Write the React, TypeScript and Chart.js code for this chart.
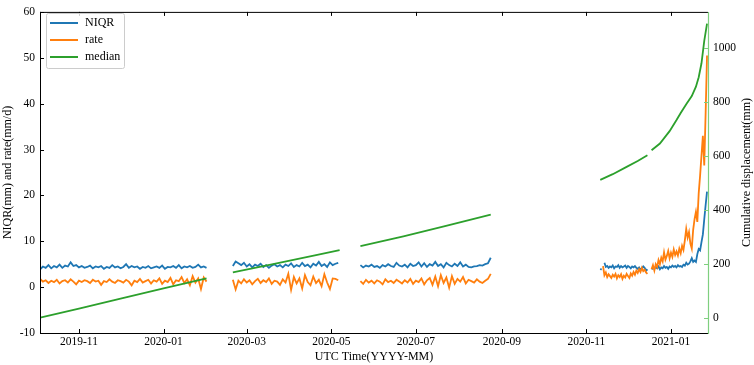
import { useEffect, useRef } from 'react';
import { Chart, registerables } from 'chart.js';

Chart.register(...registerables);

const DAY = 86400000;

// ---- x range / ticks ----
const X_MIN_DATE = '2019-10-04';
const X_MAX_DATE = '2021-01-27';
const X_TICK_DATES = ['2019-11-01', '2020-01-01', '2020-03-01', '2020-05-01', '2020-07-01', '2020-09-01', '2020-11-01', '2021-01-01'];
const LEFT_TICKS = [-10, 0, 10, 20, 30, 40, 50, 60];
const RIGHT_TICKS = [0, 200, 400, 600, 800, 1000];

// ---- NIQR (mm) and rate (mm/d): segment start date, step (days), values ----
const SEG1_START = '2019-10-04';
const SEG1_STEP = 2;
const NIQR_SEG1 = [3.9,4.5,4.2,4.8,4.1,4.6,4.3,4.9,4.2,4.7,4.5,5.4,4.6,4.8,4.3,4.6,4.2,4.4,4.7,4.1,4.5,4.3,4.6,4.0,4.4,4.2,4.8,4.3,4.5,4.1,4.4,5.0,4.2,4.6,4.3,4.5,4.0,4.4,4.2,4.6,4.1,4.3,4.5,4.2,4.7,4.0,4.4,4.3,4.6,4.2,4.8,4.1,4.5,4.3,4.6,4.2,4.4,4.9,4.3,4.5,4.2];
const RATE_SEG1 = [1.8,1.2,1.5,0.9,1.4,1.1,1.6,0.8,1.3,1.5,1.0,1.7,1.2,0.6,1.4,1.1,1.5,1.3,0.9,1.6,1.2,1.4,0.5,1.3,1.1,1.7,1.2,0.9,1.5,1.3,1.0,1.6,1.2,0.4,1.4,1.1,1.8,1.0,1.3,1.6,0.8,1.5,1.2,1.9,0.7,1.4,1.1,2.0,0.6,1.5,1.3,2.2,0.9,1.7,0.4,2.4,1.0,1.9,-0.4,2.1,1.2];

const SEG2_START = '2020-02-20';
const SEG2_STEP = 2;
const NIQR_SEG2 = [4.6,5.6,5.2,4.8,5.3,4.5,5.0,4.3,4.9,4.6,5.1,4.4,4.8,4.2,4.7,5.0,4.5,4.8,4.3,4.9,4.6,5.2,4.4,4.8,4.5,5.3,4.6,4.9,4.3,5.1,4.7,5.5,4.6,5.0,4.4,5.4,4.8,5.1,5.3];
const RATE_SEG2 = [1.6,-0.5,1.4,0.8,1.7,1.0,1.5,0.6,1.3,1.8,0.9,1.5,1.1,1.9,0.7,1.4,1.2,0.5,1.7,1.0,2.9,-0.6,2.2,0.8,1.9,-0.3,2.6,1.1,0.4,2.3,0.9,1.6,0.2,2.8,1.0,-0.4,1.9,1.8,1.5];

const SEG3_START = '2020-05-22';
const SEG3_STEP = 2;
const NIQR_SEG3 = [4.8,4.3,4.7,4.5,4.9,4.4,4.6,4.2,4.8,4.5,5.0,4.6,4.4,5.3,4.7,4.5,4.9,4.3,5.1,4.6,4.8,5.4,4.5,5.2,4.4,5.0,4.7,5.5,4.6,5.0,4.3,5.3,4.8,4.5,5.1,4.6,5.4,4.5,4.9,4.4,4.3,4.5,4.6,4.8,4.7,5.0,5.2,6.4];
const RATE_SEG3 = [1.3,0.7,1.6,1.0,1.4,0.8,1.5,1.2,0.6,1.7,1.1,1.4,0.9,1.6,1.2,0.8,1.5,1.0,1.8,0.7,1.4,1.1,1.9,0.6,1.5,2.0,0.5,2.3,0.2,2.6,0.9,2.1,-0.1,2.4,0.7,1.8,1.2,2.2,0.8,1.6,1.3,1.0,1.7,1.2,0.9,1.4,1.8,2.9];

const NIQR_SEG4A_START = '2020-11-11';
const RATE_SEG4A_START = '2020-11-13';
const SEG4_STEP = 1;
const NIQR_SEG4A = [4.0,3.8,null,5.3,4.4,4.6,4.2,4.5,4.3,4.7,4.1,4.5,4.4,4.8,4.2,4.6,4.3,4.5,4.7,4.2,4.6,4.4,4.1,4.5,4.3,4.6,4.2,4.0,4.3,3.8,4.1,4.5,4.2,3.6,3.9];
const RATE_SEG4A = [4.6,2.6,3.2,2.2,2.8,2.4,2.0,2.7,2.3,2.9,1.9,2.6,2.2,2.8,1.8,2.5,2.1,2.9,2.4,2.0,3.0,2.5,3.3,2.7,3.6,3.1,3.9,3.3,4.2,3.5,3.8,3.2,2.9];

const SEG4B_START = '2020-12-18';
const NIQR_SEG4B = [3.9,4.2,4.0,4.4,4.1,4.5,3.9,4.3,4.1,4.6,4.2,4.4,4.0,4.5,4.3,4.7,4.4,4.6,4.3,4.8,4.5,4.6,4.4,4.9,4.7,5.3,4.9,5.1,5.6,6.3,5.5,5.8,5.5,7.2,8.3,8.0,9.8,11.5,14.8,17.9,20.8];
const RATE_SEG4B = [3.9,4.8,3.6,5.0,4.4,5.9,5.0,6.4,5.6,7.6,6.0,6.8,7.9,6.3,7.5,6.6,8.2,7.0,7.8,6.9,8.4,7.4,9.0,8.1,10.2,12.7,10.8,12.0,9.5,8.4,12.5,14.8,16.4,14.2,20.5,24.3,28.7,33.0,26.5,38.0,50.5];

// ---- median cumulative displacement (mm), right axis ----
const MED_SEG1_DATES = ['2019-10-04', '2019-11-01', '2019-12-01', '2020-01-01', '2020-02-01'];
const MED_SEG1 = [0, 34, 71, 109, 146];
const MED_SEG2_DATES = ['2020-02-20', '2020-03-20', '2020-04-20', '2020-05-07'];
const MED_SEG2 = [168, 199, 232, 251];
const MED_SEG3_DATES = ['2020-05-22', '2020-06-22', '2020-07-22', '2020-08-24'];
const MED_SEG3 = [266, 302, 340, 383];
const MED_SEG4A_DATES = ['2020-11-11', '2020-11-20', '2020-11-30', '2020-12-08', '2020-12-15'];
const MED_SEG4A = [512, 533, 560, 582, 603];
const MED_SEG4B_DATES = ['2020-12-18', '2020-12-24', '2020-12-31', '2021-01-05', '2021-01-08', '2021-01-12', '2021-01-16', '2021-01-19', '2021-01-21', '2021-01-23', '2021-01-25', '2021-01-27'];
const MED_SEG4B = [622, 647, 693, 734, 760, 793, 823, 858, 893, 945, 1028, 1092];

const COLORS = { niqr: '#1f77b4', rate: '#ff7f0e', median: '#2ca02c', spine: '#7fcf7f' };
const FONT = 'Liberation Serif, Times New Roman, serif';

type P = { x: number; y: number | null };

function regular(start: string, step: number, values: (number | null)[]): P[] {
  const t0 = Date.parse(start);
  return values.map((v, i) => ({ x: t0 + i * step * DAY, y: v }));
}
function dated(dates: string[], values: number[]): P[] {
  return dates.map((d, i) => ({ x: Date.parse(d), y: values[i] }));
}
function join(...segs: P[][]): P[] {
  const out: P[] = [];
  segs.forEach((s, i) => {
    if (i > 0) out.push({ x: s[0].x - DAY / 2, y: null });
    out.push(...s);
  });
  return out;
}

const framePlugin = {
  id: 'frame',
  afterDraw(chart: any) {
    const { ctx, chartArea: a, scales } = chart;
    const L = 4;
    ctx.save();
    ctx.lineWidth = 1;
    ctx.strokeStyle = '#000';
    ctx.beginPath();
    scales.x.ticks.forEach((t: any) => {
      const px = Math.round(scales.x.getPixelForValue(t.value)) + 0.5;
      ctx.moveTo(px, a.bottom); ctx.lineTo(px, a.bottom - L);
      ctx.moveTo(px, a.top); ctx.lineTo(px, a.top + L);
    });
    scales.y.ticks.forEach((t: any) => {
      const py = Math.round(scales.y.getPixelForValue(t.value)) + 0.5;
      ctx.moveTo(a.left, py); ctx.lineTo(a.left + L, py);
    });
    ctx.moveTo(a.left + 0.5, a.top); ctx.lineTo(a.left + 0.5, a.bottom);
    ctx.moveTo(a.left, a.top + 0.5); ctx.lineTo(a.right, a.top + 0.5);
    ctx.moveTo(a.left, a.bottom + 0.5); ctx.lineTo(a.right, a.bottom + 0.5);
    ctx.stroke();
    ctx.strokeStyle = COLORS.spine;
    ctx.lineWidth = 1.2;
    ctx.beginPath();
    scales.y2.ticks.forEach((t: any) => {
      const py = Math.round(scales.y2.getPixelForValue(t.value)) + 0.5;
      ctx.moveTo(a.right, py); ctx.lineTo(a.right - L, py);
    });
    ctx.moveTo(a.right + 0.5, a.top); ctx.lineTo(a.right + 0.5, a.bottom + 1);
    ctx.stroke();

    // axis titles
    ctx.fillStyle = '#000';
    ctx.font = `12px ${FONT}`;
    ctx.textAlign = 'center';
    ctx.textBaseline = 'middle';
    ctx.fillText('UTC Time(YYYY-MM)', (a.left + a.right) / 2, 357);
    const cy = (a.top + a.bottom) / 2;
    ctx.save();
    ctx.translate(8, cy);
    ctx.rotate(-Math.PI / 2);
    ctx.fillText('NIQR(mm) and rate(mm/d)', 0, 0);
    ctx.restore();
    ctx.save();
    ctx.translate(747, cy);
    ctx.rotate(-Math.PI / 2);
    ctx.fillText('Cumulative displacement(mm)', 0, 0);
    ctx.restore();

    // legend
    const bx = 46.5, by = 13.5, bw = 78, bh = 55;
    ctx.fillStyle = 'rgba(255,255,255,0.8)';
    ctx.strokeStyle = '#cccccc';
    ctx.lineWidth = 1;
    ctx.beginPath();
    ctx.roundRect(bx, by, bw, bh, 2);
    ctx.fill();
    ctx.stroke();
    const items = [
      { label: 'NIQR', color: COLORS.niqr, y: 23 },
      { label: 'rate', color: COLORS.rate, y: 40 },
      { label: 'median', color: COLORS.median, y: 57 },
    ];
    ctx.textAlign = 'left';
    items.forEach((it) => {
      ctx.strokeStyle = it.color;
      ctx.lineWidth = 2;
      ctx.beginPath();
      ctx.moveTo(50, it.y); ctx.lineTo(78, it.y);
      ctx.stroke();
      ctx.fillStyle = '#000';
      ctx.fillText(it.label, 85, it.y);
    });
    ctx.restore();
  },
};

export default function App() {
  const ref = useRef<HTMLCanvasElement>(null);
  useEffect(() => {
    document.body.style.margin = '0';
    const niqr = join(
      regular(SEG1_START, SEG1_STEP, NIQR_SEG1),
      regular(SEG2_START, SEG2_STEP, NIQR_SEG2),
      regular(SEG3_START, SEG3_STEP, NIQR_SEG3),
      regular(NIQR_SEG4A_START, SEG4_STEP, NIQR_SEG4A),
      regular(SEG4B_START, SEG4_STEP, NIQR_SEG4B),
    );
    const rate = join(
      regular(SEG1_START, SEG1_STEP, RATE_SEG1),
      regular(SEG2_START, SEG2_STEP, RATE_SEG2),
      regular(SEG3_START, SEG3_STEP, RATE_SEG3),
      regular(RATE_SEG4A_START, SEG4_STEP, RATE_SEG4A),
      regular(SEG4B_START, SEG4_STEP, RATE_SEG4B),
    );
    const median = join(
      dated(MED_SEG1_DATES, MED_SEG1),
      dated(MED_SEG2_DATES, MED_SEG2),
      dated(MED_SEG3_DATES, MED_SEG3),
      dated(MED_SEG4A_DATES, MED_SEG4A),
      dated(MED_SEG4B_DATES, MED_SEG4B),
    );
    const tickFont = { family: FONT, size: 11.5 };
    const chart = new Chart(ref.current!, {
      type: 'line',
      data: {
        datasets: [
          { label: 'NIQR', data: niqr as any, borderColor: COLORS.niqr, borderWidth: 1.8, pointRadius: 0, yAxisID: 'y', order: 2, spanGaps: false, tension: 0 },
          { label: 'rate', data: rate as any, borderColor: COLORS.rate, borderWidth: 1.8, pointRadius: 0, yAxisID: 'y', order: 1, spanGaps: false, tension: 0 },
          { label: 'median', data: median as any, borderColor: COLORS.median, borderWidth: 1.8, pointRadius: 0, yAxisID: 'y2', order: 0, spanGaps: false, tension: 0 },
        ],
      },
      options: {
        responsive: false,
        animation: false,
        parsing: false as any,
        layout: { padding: { top: 8, left: 0, right: 0, bottom: 0 } },
        plugins: { legend: { display: false }, tooltip: { enabled: false } },
        scales: {
          x: {
            type: 'linear',
            min: Date.parse(X_MIN_DATE) - 0.1 * DAY,
            max: Date.parse(X_MAX_DATE) + 0.7 * DAY,
            grid: { display: false, drawTicks: false },
            border: { display: false },
            afterBuildTicks: (s: any) => { s.ticks = X_TICK_DATES.map((d) => ({ value: Date.parse(d) })); },
            afterFit: (s: any) => { s.height = 32; },
            ticks: {
              autoSkip: false, maxRotation: 0, padding: 2, color: '#000', font: tickFont,
              callback: (v: any) => new Date(Number(v)).toISOString().slice(0, 7),
            },
          },
          y: {
            position: 'left', min: -10, max: 60,
            grid: { display: false, drawTicks: false },
            border: { display: false },
            afterBuildTicks: (s: any) => { s.ticks = LEFT_TICKS.map((v) => ({ value: v })); },
            afterFit: (s: any) => { s.width = 40; },
            ticks: { padding: 5, color: '#000', font: tickFont, callback: (v: any) => String(v) },
          },
          y2: {
            position: 'right', min: -56.9, max: 1135.8,
            grid: { display: false, drawTicks: false },
            border: { display: false },
            afterBuildTicks: (s: any) => { s.ticks = RIGHT_TICKS.map((v) => ({ value: v })); },
            afterFit: (s: any) => { s.width = 46; },
            ticks: { padding: 5, color: '#000', font: tickFont, callback: (v: any) => String(v) },
          },
        },
      },
      plugins: [framePlugin],
    });
    return () => chart.destroy();
  }, []);
  return <canvas ref={ref} width={754} height={365} style={{ display: 'block' }} />;
}
